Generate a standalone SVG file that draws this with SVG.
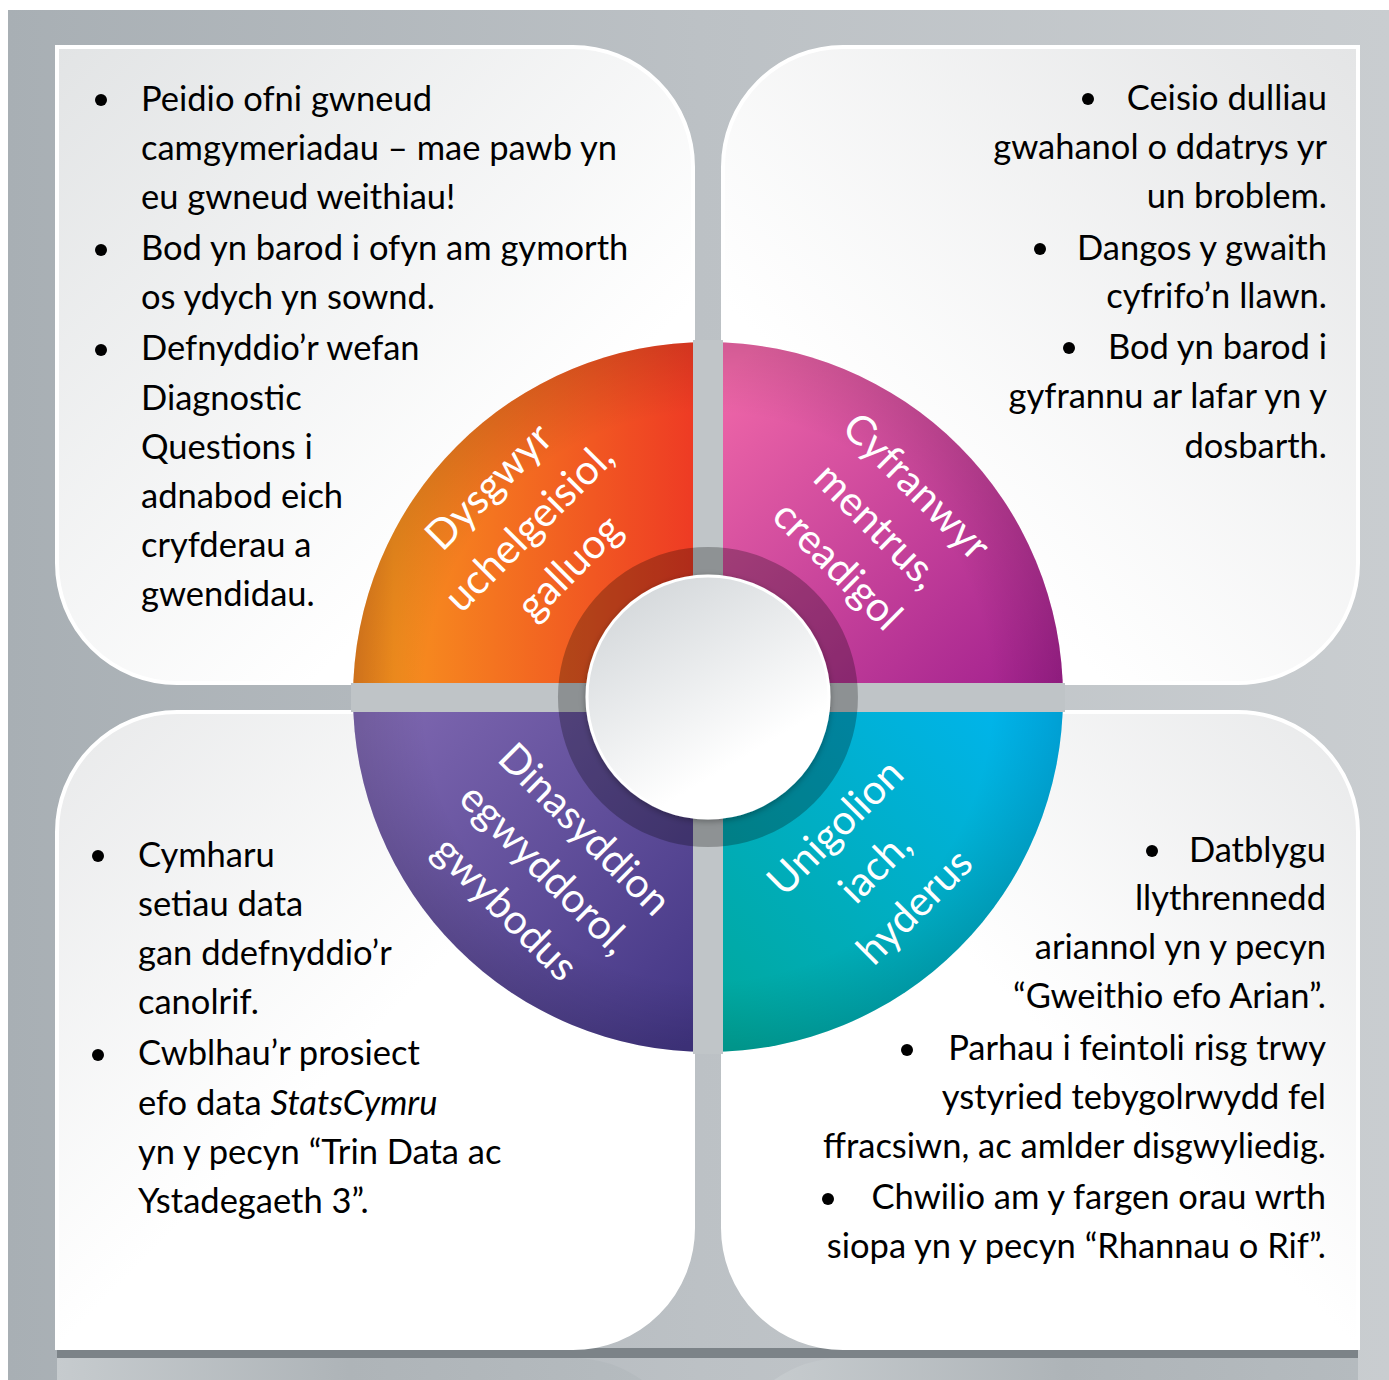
<svg xmlns="http://www.w3.org/2000/svg" width="1389" height="1380" viewBox="0 0 1389 1380">
<defs>
<linearGradient id="bg" x1="0" y1="0" x2="1" y2="0">
<stop offset="0" stop-color="#a8afb4"/><stop offset="0.5" stop-color="#bcc1c5"/><stop offset="1" stop-color="#c9cdd0"/>
</linearGradient>
<linearGradient id="pTL" x1="0" y1="0" x2="0.7" y2="0.7"><stop offset="0" stop-color="#e2e4e5"/><stop offset="1" stop-color="#ffffff"/></linearGradient>
<linearGradient id="pTR" x1="1" y1="0" x2="0.3" y2="0.7"><stop offset="0" stop-color="#e4e5e6"/><stop offset="1" stop-color="#ffffff"/></linearGradient>
<linearGradient id="pBL" x1="0" y1="0" x2="0.5" y2="0.5"><stop offset="0" stop-color="#e8e9ea"/><stop offset="1" stop-color="#ffffff"/></linearGradient>
<linearGradient id="pBR" x1="1" y1="0" x2="0.5" y2="0.5"><stop offset="0" stop-color="#e8e9ea"/><stop offset="1" stop-color="#ffffff"/></linearGradient>
<linearGradient id="gOr" gradientUnits="userSpaceOnUse" x1="353" y1="0" x2="693" y2="0"><stop offset="0" stop-color="#e9801f"/><stop offset="0.12" stop-color="#f7901e"/><stop offset="1" stop-color="#ee3b24"/></linearGradient>
<linearGradient id="gMa" gradientUnits="userSpaceOnUse" x1="740" y1="360" x2="1050" y2="690"><stop offset="0" stop-color="#ef67a8"/><stop offset="1" stop-color="#a1208e"/></linearGradient>
<linearGradient id="gPu" gradientUnits="userSpaceOnUse" x1="370" y1="720" x2="690" y2="1040"><stop offset="0" stop-color="#7e67b0"/><stop offset="1" stop-color="#433685"/></linearGradient>
<linearGradient id="gCy" gradientUnits="userSpaceOnUse" x1="1050" y1="720" x2="730" y2="1040"><stop offset="0" stop-color="#00b5f0"/><stop offset="1" stop-color="#00a89c"/></linearGradient>
<radialGradient id="rim" gradientUnits="userSpaceOnUse" cx="708" cy="697" r="355"><stop offset="0.8" stop-color="#000" stop-opacity="0"/><stop offset="1" stop-color="#000" stop-opacity="0.12"/></radialGradient>
<linearGradient id="gWc" x1="0.2" y1="0" x2="0.8" y2="1"><stop offset="0" stop-color="#d2d6d9"/><stop offset="0.75" stop-color="#ffffff"/></linearGradient>
<linearGradient id="refl" x1="0" y1="0" x2="1" y2="0"><stop offset="0" stop-color="#c6cbce"/><stop offset="0.5" stop-color="#aeb4b8"/><stop offset="1" stop-color="#b5bbbf"/></linearGradient>
<filter id="sh" x="-20%" y="-20%" width="140%" height="140%"><feDropShadow dx="0" dy="2" stdDeviation="3" flood-color="#000" flood-opacity="0.3"/></filter>
</defs>
<style>
.panel{stroke:#ffffff;stroke-width:4}
.body{font-family:Lato,"Liberation Sans",sans-serif;font-size:34.5px;fill:#000}
.end{text-anchor:end}
.ring{font-family:Lato,"Liberation Sans",sans-serif;font-size:41px;fill:#ffffff;text-anchor:middle}
.bul{fill:#000}
</style>
<rect x="0" y="0" width="1389" height="1380" fill="#ffffff"/>
<rect x="8" y="10" width="1381" height="1370" fill="url(#bg)"/>
<g id="reflection">
<rect x="57" y="1348" width="1301" height="10" fill="#7c8388"/>
<path d="M57,1358 H573 A120,120 0 0 1 642,1380 H57 Z" fill="url(#refl)"/>
<path d="M843,1358 H1358 V1380 H774 A120,120 0 0 1 843,1358 Z" fill="url(#refl)"/>
</g>
<g id="panel-tl"><path class="panel" fill="url(#pTL)" d="M57,47 H573 A120,120 0 0 1 693,167 V683 H177 A120,120 0 0 1 57,563 Z"/></g>
<g id="panel-tr"><path class="panel" fill="url(#pTR)" d="M843,47 H1358 V563 A120,120 0 0 1 1238,683 H723 V167 A120,120 0 0 1 843,47 Z"/></g>
<g id="panel-bl"><path class="panel" fill="url(#pBL)" d="M177,712 H693 V1228 A120,120 0 0 1 573,1348 H57 V832 A120,120 0 0 1 177,712 Z"/></g>
<g id="panel-br"><path class="panel" fill="url(#pBR)" d="M723,712 H1238 A120,120 0 0 1 1358,832 V1348 H843 A120,120 0 0 1 723,1228 Z"/></g>
<g id="ring">
<path id="sector-orange" d="M708,697 L353,697 A355,355 0 0 1 708,342 Z" fill="url(#gOr)"/>
<path id="sector-magenta" d="M708,697 L708,342 A355,355 0 0 1 1063,697 Z" fill="url(#gMa)"/>
<path id="sector-cyan" d="M708,697 L1063,697 A355,355 0 0 1 708,1052 Z" fill="url(#gCy)"/>
<path id="sector-purple" d="M708,697 L708,1052 A355,355 0 0 1 353,697 Z" fill="url(#gPu)"/>
<circle cx="708" cy="697" r="355" fill="url(#rim)"/>
<rect x="693" y="340" width="30" height="714" fill="#c0c5c8"/>
<rect x="351" y="683" width="714" height="29" fill="#bfc4c7"/>
<path d="M708,547 A150,150 0 1 1 707.9,547 Z M708,576 A121,121 0 1 0 708.1,576 Z" fill="#000" fill-opacity="0.26" fill-rule="evenodd"/>
<circle cx="708" cy="697" r="121" fill="url(#gWc)" stroke="#ffffff" stroke-width="3" filter="url(#sh)"/>
</g>
<g id="ring-labels">
<g transform="translate(531,529) rotate(-45)"><text class="ring" x="0" y="-46">Dysgwyr</text><text class="ring" x="0" y="11">uchelgeisiol,</text><text class="ring" x="0" y="68">galluog</text></g>
<g transform="translate(875,528) rotate(45)"><text class="ring" x="0" y="-45">Cyfranwyr</text><text class="ring" x="0" y="11">mentrus,</text><text class="ring" x="0" y="67">creadigol</text></g>
<g transform="translate(543,871) rotate(45)"><text class="ring" x="0" y="-45">Dinasyddion</text><text class="ring" x="0" y="11">egwyddorol,</text><text class="ring" x="0" y="67">gwybodus</text></g>
<g transform="translate(877,869) rotate(-45)"><text class="ring" x="0" y="-45">Unigolion</text><text class="ring" x="0" y="11">iach,</text><text class="ring" x="0" y="67">hyderus</text></g>
</g>
<g id="text-tl">
<circle class="bul" cx="101" cy="100" r="6"/><circle class="bul" cx="101" cy="250" r="6"/><circle class="bul" cx="101" cy="350" r="6"/>
<text class="body" x="141" y="111">Peidio ofni gwneud</text>
<text class="body" x="141" y="160">camgymeriadau – mae pawb yn</text>
<text class="body" x="141" y="209">eu gwneud weithiau!</text>
<text class="body" x="141" y="260">Bod yn barod i ofyn am gymorth</text>
<text class="body" x="141" y="309">os ydych yn sownd.</text>
<text class="body" x="141" y="360">Defnyddio’r wefan</text>
<text class="body" x="141" y="410">Diagnostic</text>
<text class="body" x="141" y="459">Questions i</text>
<text class="body" x="141" y="508">adnabod eich</text>
<text class="body" x="141" y="557">cryfderau a</text>
<text class="body" x="141" y="606">gwendidau.</text>
</g>
<g id="text-tr">
<circle class="bul" cx="1088" cy="99" r="6"/><circle class="bul" cx="1040" cy="249" r="6"/><circle class="bul" cx="1069" cy="348" r="6"/>
<text class="body end" x="1327" y="110">Ceisio dulliau</text>
<text class="body end" x="1327" y="159">gwahanol o ddatrys yr</text>
<text class="body end" x="1327" y="208">un broblem.</text>
<text class="body end" x="1327" y="260">Dangos y gwaith</text>
<text class="body end" x="1327" y="308">cyfrifo’n llawn.</text>
<text class="body end" x="1327" y="359">Bod yn barod i</text>
<text class="body end" x="1327" y="408">gyfrannu ar lafar yn y</text>
<text class="body end" x="1327" y="458">dosbarth.</text>
</g>
<g id="text-bl">
<circle class="bul" cx="98" cy="856" r="6"/><circle class="bul" cx="98" cy="1055" r="6"/>
<text class="body" x="138" y="867">Cymharu</text>
<text class="body" x="138" y="916">setiau data</text>
<text class="body" x="138" y="965">gan ddefnyddio’r</text>
<text class="body" x="138" y="1014">canolrif.</text>
<text class="body" x="138" y="1065">Cwblhau’r prosiect</text>
<text class="body" x="138" y="1115">efo data <tspan font-style="italic">StatsCymru</tspan></text>
<text class="body" x="138" y="1164">yn y pecyn “Trin Data ac</text>
<text class="body" x="138" y="1213">Ystadegaeth 3”.</text>
</g>
<g id="text-br">
<circle class="bul" cx="1152" cy="851" r="6"/><circle class="bul" cx="907" cy="1050" r="6"/><circle class="bul" cx="828" cy="1199" r="6"/>
<text class="body end" x="1326" y="862">Datblygu</text>
<text class="body end" x="1326" y="910">llythrennedd</text>
<text class="body end" x="1326" y="959">ariannol yn y pecyn</text>
<text class="body end" x="1326" y="1008">“Gweithio efo Arian”.</text>
<text class="body end" x="1326" y="1060">Parhau i feintoli risg trwy</text>
<text class="body end" x="1326" y="1109">ystyried tebygolrwydd fel</text>
<text class="body end" x="1326" y="1158">ffracsiwn, ac amlder disgwyliedig.</text>
<text class="body end" x="1326" y="1209">Chwilio am y fargen orau wrth</text>
<text class="body end" x="1326" y="1258">siopa yn y pecyn “Rhannau o Rif”.</text>
</g>
</svg>
